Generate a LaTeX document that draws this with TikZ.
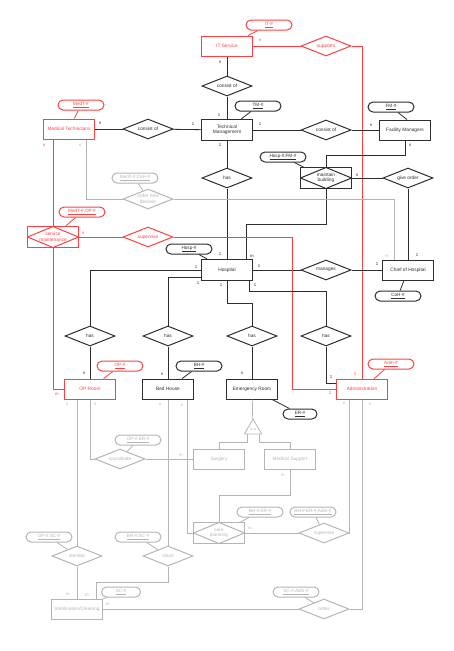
\documentclass[tikz,border=0pt]{standalone}
\usepackage{fontspec}
\setmainfont{Liberation Sans}
\usetikzlibrary{shapes.geometric, calc}

\definecolor{lred}{RGB}{255,64,64}
\definecolor{lgray}{RGB}{180,180,180}
\definecolor{dark}{RGB}{45,45,45}

\begin{document}
\begin{tikzpicture}[x=1pt, y=-1pt, color=dark]
        \tikzstyle{entity} = [rectangle, draw, minimum width=51, minimum height=20, inner sep=1pt, align=center, line width=1pt, font=\fontsize{4.8}{5.5}\selectfont]
        \tikzstyle{rel} = [diamond, draw, aspect=2.5, minimum width=50, minimum height=20, inner sep=0pt, align=center, line width=1pt, font=\fontsize{4.8}{5.5}\selectfont]
        \tikzstyle{assoc} = [entity, minimum height=21, path picture={\draw[line width=1pt] (path picture bounding box.north) -- (path picture bounding box.east) -- (path picture bounding box.south) -- (path picture bounding box.west) -- cycle;}]
        \tikzstyle{attr} = [rectangle, rounded corners=5pt, draw, minimum width=46, minimum height=10, inner sep=0pt, line width=1pt, font=\fontsize{4.6}{5}\selectfont]
        \tikzstyle{isa} = [regular polygon, regular polygon sides=3, draw, minimum size=20, inner sep=0pt, line width=0.8pt, font=\fontsize{3.8}{4}\selectfont]
        \tikzstyle{card} = [inner sep=0pt, font=\fontsize{4.3}{5}\selectfont]
        \tikzstyle{link} = [line width=0.8pt]
        \tikzstyle{hl} = [color=lred]
        \tikzstyle{dim} = [color=lgray]

        \useasboundingbox (0,0) rectangle (454,651);

        % entities
        \node (its) [entity, hl] at (227,46) {IT Service};
        \node (tm) [entity, minimum height=21] at (227,130) {Technical\\Management};
        \node (mt) [entity, hl] at (69,129) {Medical Technicians};
        \node (fm) [entity] at (405,130) {Facility Managers};
        \node (hosp) [entity, minimum height=21] at (227,270) {Hospital};
        \node (coh) [entity] at (408,270) {Chief of Hospital};
        \node (op) [entity, hl] at (90,389) {OP Room};
        \node (bh) [entity] at (168,389) {Bed House};
        \node (er) [entity] at (252,389) {Emergency Room};
        \node (adm) [entity, hl] at (362,389) {Administration};
        \node (sur) [entity, dim] at (219,459) {Surgery};
        \node (ms) [entity, dim] at (290,459) {Medical Support};
        \node (sc) [entity, dim] at (77,609) {Sterilisation/Cleaning};

        % relationships
        \node (sup) [rel, hl] at (326,46) {supports};
        \node (cons) [rel] at (227,86) {consist of};
        \node (consl) [rel] at (148,129) {consist of};
        \node (consr) [rel] at (326,130) {consist of};
        \node (has0) [rel] at (227,178) {has};
        \node (mb) [assoc] at (326,178) {maintain\\building};
        \node (go) [rel] at (408,178) {give order};
        \node (ond) [rel, dim] at (148,199) {order new\\devices};
        \node (sm) [assoc, hl] at (53,237) {service\\maintenance};
        \node (sv) [rel, hl] at (148,237) {supervise};
        \node (mng) [rel] at (326,270) {manages};
        \node (has1) [rel] at (90,336) {has};
        \node (has2) [rel] at (168,336) {has};
        \node (has3) [rel] at (252,336) {has};
        \node (has4) [rel] at (326,336) {has};
        \node (isa) [isa, dim] at (253,429) {is a};
        \node (crd) [rel, dim] at (120,459) {coordinate};
        \node (cp) [assoc, dim] at (219,533) {care\\planning};
        \node (sv2) [rel, dim] at (324,533) {supervise};
        \node (ster) [rel, dim] at (77,556) {sterilise};
        \node (cln) [rel, dim] at (168,556) {clean};
        \node (ord) [rel, dim] at (324,609) {order};

        % keys
        \node (itid) [attr, hl] at (269,25) {\underline{IT-\#}};
        \node (mtid) [attr, hl] at (81,105) {\underline{MedT-\#}};
        \node (tmid) [attr] at (258,106) {\underline{TM-\#}};
        \node (fmid) [attr] at (391,107) {\underline{FM-\#}};
        \node (mbid) [attr] at (283,157) {\underline{Hosp-\#,FM-\#}};
        \node (ondid) [attr, dim] at (135,178) {\underline{MedT-\#,CoH-\#}};
        \node (smid) [attr, hl] at (82,212) {\underline{MedT-\#,OP-\#}};
        \node (hospid) [attr] at (189,249) {\underline{Hosp-\#}};
        \node (cohid) [attr] at (398,296) {\underline{CoH-\#}};
        \node (opid) [attr, hl] at (120,366) {\underline{OP-\#}};
        \node (bhid) [attr] at (199,366) {\underline{BH-\#}};
        \node (admid) [attr, hl] at (391,364) {\underline{Adm-\#}};
        \node (erid) [attr, minimum width=34] at (300,414) {\underline{ER-\#}};
        \node (crdid) [attr, dim] at (138,440) {\underline{OP-\#,ER-\#}};
        \node (cpid) [attr, dim] at (260,512) {\underline{BH-\#,ER-\#}};
        \node (sv2id) [attr, dim] at (313,512) {\underline{BH-\#,ER-\#,Adm-\#}};
        \node (sterid) [attr, dim] at (49,537) {\underline{OP-\#,SC-\#}};
        \node (clnid) [attr, dim] at (138,537) {\underline{BH-\#,SC-\#}};
        \node (scid) [attr, dim, minimum width=39] at (121,592) {\underline{SC-\#}};
        \node (ordid) [attr, dim] at (296,592) {\underline{SC-\#,Adm-\#}};

        % key links
        \draw [link, hl] (itid) -- (its);
        \draw [link, hl] (mtid) -- (mt);
        \draw [link] (tmid) -- (tm);
        \draw [link] (fmid) -- ([xshift=2pt]fm.north);
        \draw [link] (mbid) -- (mb);
        \draw [link, dim] (ondid) -- (ond);
        \draw [link, hl] (smid) -- (sm);
        \draw [link] (hospid) -- (hosp);
        \draw [link] (cohid) -- (coh);
        \draw [link, hl] (opid) -- (op);
        \draw [link] (bhid) -- (bh);
        \draw [link, hl] (admid) -- (adm);
        \draw [link] (erid) -- (er);
        \draw [link, dim] (crdid) -- (crd);
        \draw [link, dim] (cpid) -- (cp);
        \draw [link, dim] (sv2id) -- (sv2);
        \draw [link, dim] (sterid) -- (ster);
        \draw [link, dim] (clnid) -- (cln);
        \draw [link, dim] (scid) -- (sc);
        \draw [link, dim] (ordid) -- (ord);

        % connectors
        \draw [link] (its) -- (cons);
        \draw [link] (cons) -- (tm);
        \draw [link, hl] (its) -- (sup);
        \draw [link, hl] (sup.east) -| (adm.north);
        \draw [link] (mt) -- (consl);
        \draw [link] (consl) -- (tm);
        \draw [link] (tm) -- (consr);
        \draw [link] (consr) -- (fm);
        \draw [link] (fm.south) -- ++(0,15) -| (mb.north);
        \draw [link] (mb) -- (go);
        \draw [link] (go) -- (coh);
        \draw [link] (tm) -- (has0);
        \draw [link] (has0) -- (hosp);
        \draw [link] (mb.south) -- ++(0,35) -| ([xshift=19pt]hosp.north);
        \draw [link] (hosp) -- (mng);
        \draw [link] (mng) -- (coh);
        \draw [link, dim] (ond.west) -| ([xshift=17pt]mt.south);
        \draw [link, dim] (ond.east) -| ([xshift=-14pt]coh.north);
        \draw [link, hl] ([xshift=-16pt]mt.south) -- (sm.north);
        \draw [link, hl] (sm.south) |- (op.west);
        \draw [link, hl] (sm) -- (sv);
        \draw [link, hl] (sv.east) -| ([xshift=-44pt]adm.west) -- (adm.west);
        \draw [link] (hosp.west) -| (has1.north);
        \draw [link] ([yshift=-7pt]hosp.west) -| (has2.north);
        \draw [link] (hosp.south) -- ++(0,22) -| (has3.north);
        \draw [link] ([xshift=22pt]hosp.south) -- ++(0,10) -| (has4.north);
        \draw [link] (has1) -- (op);
        \draw [link] (has2) -- (bh);
        \draw [link] (has3) -- (er);
        \draw [link] (has4.south) |- ([yshift=6pt]adm.west);
        \draw [link, dim] (er) -- (isa);
        \draw [link, dim] ([xshift=-6pt]isa.south) -- ++(0,8) -| (sur.north);
        \draw [link, dim] ([xshift=6pt]isa.south) -- ++(0,8) -| (ms.north);
        \draw [link, dim] (ms.south) -- ++(0,26) -| (cp.north);
        \draw [link, dim] (cp) -- (sv2);
        \draw [link, dim] ([xshift=-13pt]adm.south) |- (sv2.east);
        \draw [link, dim] (adm.south) |- (ord.east);
        \draw [link, dim] (ord) -- (sc);
        \draw [link, dim] ([xshift=-13pt]op.south) -- (ster);
        \draw [link, dim] (op.south) |- (crd.west);
        \draw [link, dim] (crd) -- (sur);
        \draw [link, dim] (bh.south) -- (cln);
        \draw [link, dim] ([xshift=19pt]bh.south) |- (cp.west);
        \draw [link, dim] (cln.south) -- ++(0,16) -| ([xshift=19pt]sc.north);
        \draw [link, dim] (ster) -- (sc);

        % cardinalities
        \node (k1) [card, hl] at (260,40) {n};
        \node (k2) [card, hl] at (355,374) {1};
        \node (k3) [card, hl] at (44,145) {n};
        \node (k4) [card, hl] at (57,394) {m};
        \node (k5) [card, hl] at (83,233) {n};
        \node (k6) [card, hl] at (330,393) {1};
        \node (k7) [card] at (220,62) {n};
        \node (k8) [card] at (219,115) {1};
        \node (k9) [card] at (100,123) {n};
        \node (k10) [card] at (193,124) {1};
        \node (k11) [card] at (260,124) {1};
        \node (k12) [card] at (371,125) {n};
        \node (k13) [card] at (410,145) {n};
        \node (k14) [card] at (220,145) {1};
        \node (k15) [card] at (357,175) {n};
        \node (k16) [card] at (417,255) {1};
        \node (k17) [card] at (220,254) {1};
        \node (k18) [card] at (252,256) {m};
        \node (k19) [card] at (259,266) {1};
        \node (k20) [card] at (377,264) {1};
        \node (k21) [card] at (196,267) {1};
        \node (k22) [card] at (198,283) {1};
        \node (k23) [card] at (221,285) {1};
        \node (k24) [card] at (255,285) {1};
        \node (k25) [card] at (84,373) {n};
        \node (k26) [card] at (162,374) {n};
        \node (k27) [card] at (242,373) {n};
        \node (k28) [card] at (331,377) {1};
        \node (k29) [card, dim] at (80,145) {n};
        \node (k30) [card, dim] at (387,256) {m};
        \node (k31) [card, dim] at (67,404) {n};
        \node (k32) [card, dim] at (95,404) {n};
        \node (k33) [card, dim] at (160,404) {n};
        \node (k34) [card, dim] at (182,405) {n};
        \node (k35) [card, dim] at (344,403) {n};
        \node (k36) [card, dim] at (370,404) {n};
        \node (k37) [card, dim] at (181,455) {m};
        \node (k38) [card, dim] at (283,475) {m};
        \node (k39) [card, dim] at (250,528) {m};
        \node (k40) [card, dim] at (68,594) {m};
        \node (k41) [card, dim] at (87,595) {m};
        \node (k42) [card, dim] at (108,604) {m};
\end{tikzpicture}
\end{document}
